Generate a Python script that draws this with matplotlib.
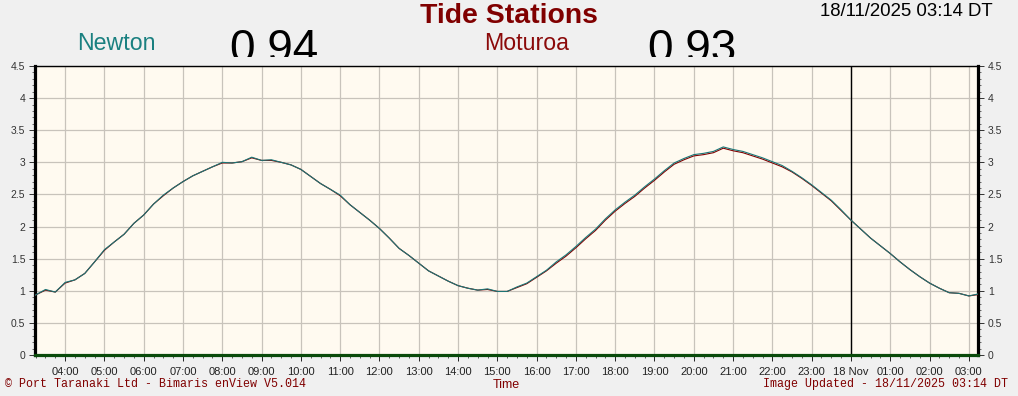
import matplotlib
matplotlib.use("Agg")
import matplotlib.pyplot as plt
from matplotlib.transforms import Bbox, TransformedBbox
from matplotlib.ticker import MultipleLocator, FixedLocator

# ---- data (hours since 00:00 on 17 Nov) ----
times = [3.233, 3.5, 3.75, 4.0, 4.25, 4.5, 4.75, 5.0, 5.25, 5.5, 5.75, 6.0, 6.25, 6.5, 6.75,
         7.0, 7.25, 7.5, 7.75, 8.0, 8.25, 8.5, 8.75, 9.0, 9.25, 9.5, 9.75, 10.0, 10.25, 10.5,
         10.75, 11.0, 11.25, 11.5, 11.75, 12.0, 12.25, 12.5, 12.75, 13.0, 13.25, 13.5, 13.75,
         14.0, 14.25, 14.5, 14.75, 15.0, 15.25, 15.5, 15.75, 16.0, 16.25, 16.5, 16.75, 17.0,
         17.25, 17.5, 17.75, 18.0, 18.25, 18.5, 18.75, 19.0, 19.25, 19.5, 19.75, 20.0, 20.25,
         20.5, 20.75, 21.0, 21.25, 21.5, 21.75, 22.0, 22.25, 22.5, 22.75, 23.0, 23.25, 23.5,
         23.75, 24.0, 24.25, 24.5, 24.75, 25.0, 25.25, 25.5, 25.75, 26.0, 26.25, 26.5, 26.75,
         27.0, 27.233]

newton = [0.93, 1.02, 0.98, 1.13, 1.17, 1.27, 1.45, 1.64, 1.76, 1.88, 2.05, 2.18, 2.35, 2.49, 2.60,
          2.70, 2.79, 2.86, 2.93, 3.00, 2.99, 3.01, 3.08, 3.03, 3.04, 3.00, 2.96, 2.89, 2.78, 2.67,
          2.58, 2.49, 2.34, 2.22, 2.10, 1.97, 1.82, 1.66, 1.55, 1.43, 1.31, 1.23, 1.15,
          1.08, 1.04, 1.01, 1.03, 0.99, 0.99, 1.06, 1.12, 1.22, 1.32, 1.45, 1.56, 1.69,
          1.83, 1.96, 2.12, 2.26, 2.38, 2.49, 2.62, 2.74, 2.87, 2.99, 3.06, 3.12, 3.14,
          3.17, 3.24, 3.20, 3.17, 3.12, 3.07, 3.01, 2.95, 2.86, 2.76, 2.65, 2.53, 2.41,
          2.26, 2.10, 1.96, 1.82, 1.70, 1.58, 1.45, 1.33, 1.22, 1.12, 1.04, 0.97, 0.96,
          0.92, 0.95]

moturoa = [0.93, 1.01, 0.98, 1.12, 1.17, 1.27, 1.45, 1.63, 1.76, 1.88, 2.05, 2.18, 2.35, 2.48, 2.60,
           2.70, 2.79, 2.86, 2.93, 2.99, 2.99, 3.01, 3.07, 3.03, 3.03, 3.00, 2.96, 2.89, 2.78, 2.67,
           2.58, 2.48, 2.34, 2.22, 2.10, 1.97, 1.82, 1.66, 1.55, 1.43, 1.31, 1.23, 1.15,
           1.08, 1.04, 1.01, 1.02, 0.99, 0.99, 1.05, 1.11, 1.21, 1.31, 1.43, 1.54, 1.67,
           1.81, 1.94, 2.10, 2.24, 2.36, 2.47, 2.60, 2.72, 2.85, 2.97, 3.04, 3.10, 3.12,
           3.15, 3.22, 3.18, 3.15, 3.10, 3.05, 2.99, 2.93, 2.85, 2.75, 2.64, 2.52, 2.40,
           2.25, 2.10, 1.96, 1.82, 1.70, 1.58, 1.45, 1.33, 1.22, 1.12, 1.04, 0.97, 0.96,
           0.92, 0.94]

tick_hours = list(range(4, 28))
tick_labels = ["04:00", "05:00", "06:00", "07:00", "08:00", "09:00", "10:00", "11:00",
               "12:00", "13:00", "14:00", "15:00", "16:00", "17:00", "18:00", "19:00",
               "20:00", "21:00", "22:00", "23:00", "18 Nov", "01:00", "02:00", "03:00"]
y_ticks = [0, 0.5, 1, 1.5, 2, 2.5, 3, 3.5, 4, 4.5]
y_labels = ["0", "0.5", "1", "1.5", "2", "2.5", "3", "3.5", "4", "4.5"]

x_start, x_end = 3.2333, 27.2333
midnight = 24.0

W, H = 1018, 396
fig = plt.figure(figsize=(W / 100, H / 100), dpi=100, facecolor="#f0f0f0")

def fx(px):
    return px / W

def fy(py):
    return 1 - py / H

ax = fig.add_axes([fx(35), fy(355), fx(978) - fx(35), fy(66) - fy(355)])
ax.set_facecolor("#fffaf0")

ax.plot(times, moturoa, color="#800000", lw=0.8, zorder=3)
ax.plot(times, newton, color="#1b7676", lw=0.8, zorder=4)
ax.axvline(midnight, color="black", lw=1.0, zorder=2)

ax.set_xlim(x_start, x_end)
ax.set_ylim(0, 4.5)

ax.xaxis.set_major_locator(FixedLocator(tick_hours))
ax.set_xticklabels(tick_labels)
ax.xaxis.set_minor_locator(MultipleLocator(0.25))
ax.yaxis.set_major_locator(FixedLocator(y_ticks))
ax.set_yticklabels(y_labels)
ax.yaxis.set_minor_locator(MultipleLocator(0.1))

ax.grid(True, which="major", color="#c8c3bb", lw=0.9, zorder=1)
ax.set_axisbelow(True)

ax.tick_params(axis="x", which="major", direction="out", length=4, width=0.7,
               labelsize=8.0, pad=4.5, colors="#222222")
ax.tick_params(axis="x", which="minor", direction="out", length=2.5, width=0.6, colors="#444444")
ax.tick_params(axis="y", which="major", direction="out", length=4, width=0.7,
               labelsize=7.5, pad=3, left=True, right=True, labelleft=True, labelright=True,
               colors="#333333")
ax.tick_params(axis="y", which="minor", direction="out", length=2, width=0.6,
               left=True, right=True, colors="#555555")
for lab in ax.get_xticklabels() + ax.get_yticklabels():
    lab.set_family("Liberation Sans")

for s in ["left", "right"]:
    ax.spines[s].set_linewidth(2.3)
    ax.spines[s].set_color("black")
ax.spines["top"].set_linewidth(1.0)
ax.spines["top"].set_color("black")
ax.spines["bottom"].set_linewidth(2.3)
ax.spines["bottom"].set_color("#0a4a0a")

# ---- header ----
sans = "Liberation Sans"
mono = "Liberation Mono"
fig.text(0.5, fy(23), "Tide Stations", ha="center", va="baseline", fontsize=20.4,
         fontweight="bold", color="#800000", family=sans)
fig.text(fx(820), fy(16), "18/11/2025 03:14 DT", ha="left", va="baseline", fontsize=13.4,
         color="black", family=sans)
fig.text(fx(77), fy(50), "Newton", ha="left", va="baseline", fontsize=16.7,
         color="#1a8080", family=sans)
fig.text(fx(484), fy(50), "Moturoa", ha="left", va="baseline", fontsize=16.7,
         color="#8b0a0a", family=sans)

clip = TransformedBbox(Bbox([[0, fy(57)], [1, 1]]), fig.transFigure)
for xpos, txt in [(229, "0.94"), (647, "0.93")]:
    t = fig.text(fx(xpos), fy(62), txt, ha="left", va="baseline", fontsize=33,
                 color="black", family=sans)
    t.set_clip_box(clip)
    t.set_clip_on(True)

# ---- footer ----
fig.text(fx(5), fy(387), "\u00a9 Port Taranaki Ltd - Bimaris enView V5.014", ha="left",
         va="baseline", fontsize=8.4, color="#800000", family=mono)
fig.text(fx(506), fy(388), "Time", ha="center", va="baseline", fontsize=9,
         color="#800000", family=sans)
fig.text(fx(1008), fy(387), "Image Updated - 18/11/2025 03:14 DT", ha="right",
         va="baseline", fontsize=8.4, color="#800000", family=mono)

fig.savefig("out.png", dpi=100, facecolor=fig.get_facecolor())
